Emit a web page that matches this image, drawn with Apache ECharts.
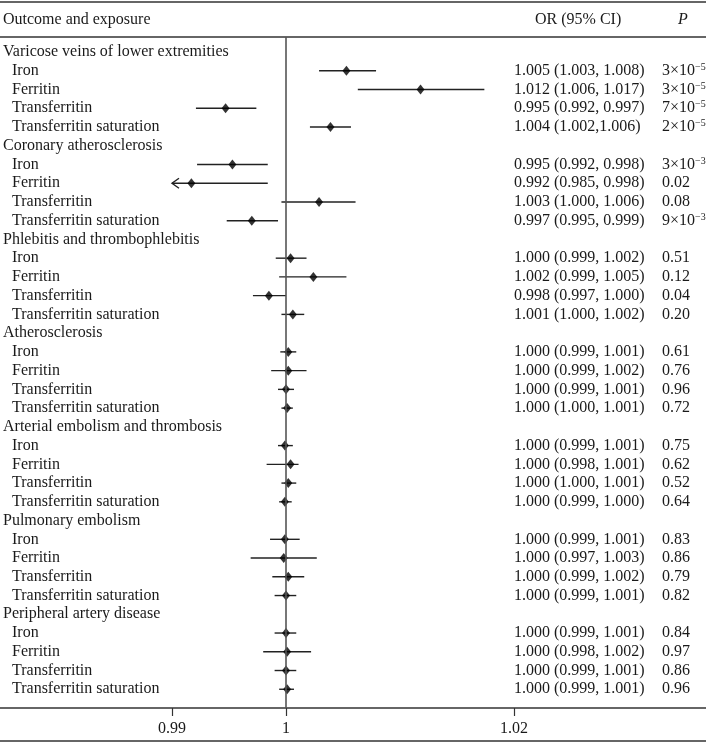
<!DOCTYPE html>
<html>
<head>
<meta charset="utf-8">
<script src="https://cdn.jsdelivr.net/npm/echarts@6/dist/echarts.min.js"></script>
<style>
  html, body { margin: 0; padding: 0; background: #fff; }
  #chart { width: 706px; height: 742px; }
</style>
</head>
<body>
<div id="chart"></div>
<script>
// outcomes (group rows) and exposures (sub rows)
const outcomes = [
  'Varicose veins of lower extremities',
  'Coronary atherosclerosis',
  'Phlebitis and thrombophlebitis',
  'Atherosclerosis',
  'Arterial embolism and thrombosis',
  'Pulmonary embolism',
  'Peripheral artery disease'
];
const exposures = ['Iron', 'Ferritin', 'Transferritin', 'Transferritin saturation'];

// point estimates, one list per outcome
const orEst = [
  [1.0053, 1.0118, 0.9947, 1.0039],
  [0.9953, 0.9917, 1.0029, 0.9970],
  [1.0004, 1.0024, 0.9985, 1.0006],
  [1.0002, 1.0002, 1.0000, 1.0001],
  [0.9999, 1.0004, 1.0002, 0.9999],
  [0.9999, 0.9998, 1.0002, 1.0000],
  [1.0000, 1.0001, 1.0000, 1.0001]
];
const ciLow = [
  [1.0029, 1.0063, 0.9921, 1.0021],
  [0.9922, 0.9850, 0.9996, 0.9948],
  [0.9991, 0.9994, 0.9971, 0.9996],
  [0.9995, 0.9987, 0.9993, 0.9996],
  [0.9993, 0.9983, 0.9996, 0.9994],
  [0.9986, 0.9969, 0.9988, 0.9990],
  [0.9990, 0.9980, 0.9990, 0.9994]
];
const ciHigh = [
  [1.0079, 1.0174, 0.9974, 1.0057],
  [0.9984, 0.9984, 1.0061, 0.9993],
  [1.0018, 1.0053, 1.0000, 1.0016],
  [1.0009, 1.0018, 1.0007, 1.0006],
  [1.0006, 1.0011, 1.0009, 1.0005],
  [1.0012, 1.0027, 1.0016, 1.0009],
  [1.0009, 1.0022, 1.0009, 1.0007]
];
// printed columns
const orText = [
  ['1.005 (1.003, 1.008)', '1.012 (1.006, 1.017)', '0.995 (0.992, 0.997)', '1.004 (1.002,1.006)'],
  ['0.995 (0.992, 0.998)', '0.992 (0.985, 0.998)', '1.003 (1.000, 1.006)', '0.997 (0.995, 0.999)'],
  ['1.000 (0.999, 1.002)', '1.002 (0.999, 1.005)', '0.998 (0.997, 1.000)', '1.001 (1.000, 1.002)'],
  ['1.000 (0.999, 1.001)', '1.000 (0.999, 1.002)', '1.000 (0.999, 1.001)', '1.000 (1.000, 1.001)'],
  ['1.000 (0.999, 1.001)', '1.000 (0.998, 1.001)', '1.000 (1.000, 1.001)', '1.000 (0.999, 1.000)'],
  ['1.000 (0.999, 1.001)', '1.000 (0.997, 1.003)', '1.000 (0.999, 1.002)', '1.000 (0.999, 1.001)'],
  ['1.000 (0.999, 1.001)', '1.000 (0.998, 1.002)', '1.000 (0.999, 1.001)', '1.000 (0.999, 1.001)']
];
// "3×10^-5" style values use {sup|...} for the exponent
const pText = [
  ['3×10{sup|−5}', '3×10{sup|−5}', '7×10{sup|−5}', '2×10{sup|−5}'],
  ['3×10{sup|−3}', '0.02', '0.08', '9×10{sup|−3}'],
  ['0.51', '0.12', '0.04', '0.20'],
  ['0.61', '0.76', '0.96', '0.72'],
  ['0.75', '0.62', '0.52', '0.64'],
  ['0.83', '0.86', '0.79', '0.82'],
  ['0.84', '0.97', '0.86', '0.96']
];
const xTicks = [0.99, 1, 1.02];

const FONT = '"Liberation Serif", "DejaVu Serif", serif';
const X_MIN = 0.99;
const X_MAX = 1.02;
const INK = '#1a1a1a';

// flatten into rows (group header + 4 exposures per outcome)
const labelRows = [];
const ciRows = [];
const pointRows = [];
outcomes.forEach((name, g) => {
  labelRows.push([g * 5, name, 0, '', '']);
  exposures.forEach((exp, k) => {
    const row = g * 5 + k + 1;
    labelRows.push([row, exp, 1, orText[g][k], pText[g][k]]);
    ciRows.push([ciLow[g][k], ciHigh[g][k], row]);
    pointRows.push([orEst[g][k], row]);
  });
});

const chart = echarts.init(document.getElementById('chart'));

const textStyle = { fontFamily: FONT, fontSize: 16, fill: INK, verticalAlign: 'middle' };

const option = {
  animation: false,
  backgroundColor: '#fff',
  grid: { left: 172, right: 192, top: 37, bottom: 34 },
  xAxis: {
    type: 'value',
    min: X_MIN,
    max: X_MAX,
    splitLine: { show: false },
    axisLine: { show: false, onZero: false },
    axisTick: {
      show: true,
      customValues: xTicks,
      length: 8,
      lineStyle: { color: '#333', width: 1.2 }
    },
    axisLabel: {
      customValues: xTicks,
      margin: 13,
      fontFamily: FONT,
      fontSize: 16,
      color: INK
    }
  },
  yAxis: {
    type: 'value',
    inverse: true,
    min: -0.8,
    max: 35,
    show: false
  },
  graphic: [
    { type: 'line', shape: { x1: 0, y1: 2, x2: 706, y2: 2 }, style: { stroke: '#333', lineWidth: 1.5 } },
    { type: 'line', shape: { x1: 0, y1: 37, x2: 706, y2: 37 }, style: { stroke: '#333', lineWidth: 1.5 } },
    { type: 'line', shape: { x1: 0, y1: 708, x2: 706, y2: 708 }, style: { stroke: '#333', lineWidth: 1.5 } },
    { type: 'line', shape: { x1: 0, y1: 741, x2: 706, y2: 741 }, style: { stroke: '#333', lineWidth: 1.5 } },
    { type: 'text', x: 3, y: 20, style: Object.assign({ text: 'Outcome and exposure' }, textStyle) },
    { type: 'text', x: 535, y: 20, style: Object.assign({ text: 'OR (95% CI)' }, textStyle) },
    { type: 'text', x: 678, y: 20, style: Object.assign({ text: 'P', fontStyle: 'italic' }, textStyle) }
  ],
  series: [
    {
      // confidence interval lines
      type: 'custom',
      data: ciRows,
      encode: { x: [0, 1], y: 2 },
      clip: false,
      renderItem: (params, api) => {
        const row = api.value(2);
        const lo = api.value(0);
        const hi = api.value(1);
        const y = api.coord([X_MIN, row])[1];
        const x1 = api.coord([Math.max(lo, X_MIN), row])[0];
        const x2 = api.coord([hi, row])[0];
        const children = [{
          type: 'line',
          shape: { x1: x1, y1: y, x2: x2, y2: y },
          style: { stroke: '#222', lineWidth: 1.4 }
        }];
        // arrow when the interval runs off the left edge
        if (lo < X_MIN) {
          children.push({
            type: 'polyline',
            shape: { points: [[x1 + 7, y - 5], [x1, y], [x1 + 7, y + 5]] },
            style: { stroke: '#222', fill: null, lineWidth: 1.4 }
          });
        }
        return { type: 'group', children: children };
      }
    },
    {
      // point estimates
      type: 'scatter',
      data: pointRows,
      symbol: 'diamond',
      symbolSize: [8, 10],
      itemStyle: { color: '#000' },
      markLine: {
        silent: true,
        symbol: 'none',
        label: { show: false },
        lineStyle: { color: '#555', width: 1.6, type: 'solid' },
        data: [{ xAxis: 1 }]
      }
    },
    {
      // text columns: labels, OR (95% CI), P
      type: 'custom',
      data: labelRows,
      encode: { y: 0 },
      clip: false,
      renderItem: (params, api) => {
        const item = labelRows[params.dataIndex];
        const y = api.coord([X_MIN, item[0]])[1];
        const children = [{
          type: 'text',
          x: item[2] ? 12 : 3,
          y: y,
          style: Object.assign({ text: item[1] }, textStyle)
        }];
        if (item[3]) {
          children.push({
            type: 'text', x: 514, y: y,
            style: Object.assign({ text: item[3] }, textStyle)
          });
          children.push({
            type: 'text', x: 662, y: y,
            style: Object.assign({
              text: item[4],
              rich: { sup: { fontFamily: FONT, fontSize: 10, fill: INK, verticalAlign: 'top', padding: [0, 0, 7, 0] } }
            }, textStyle)
          });
        }
        return { type: 'group', children: children };
      }
    }
  ]
};

chart.setOption(option);
</script>
</body>
</html>
